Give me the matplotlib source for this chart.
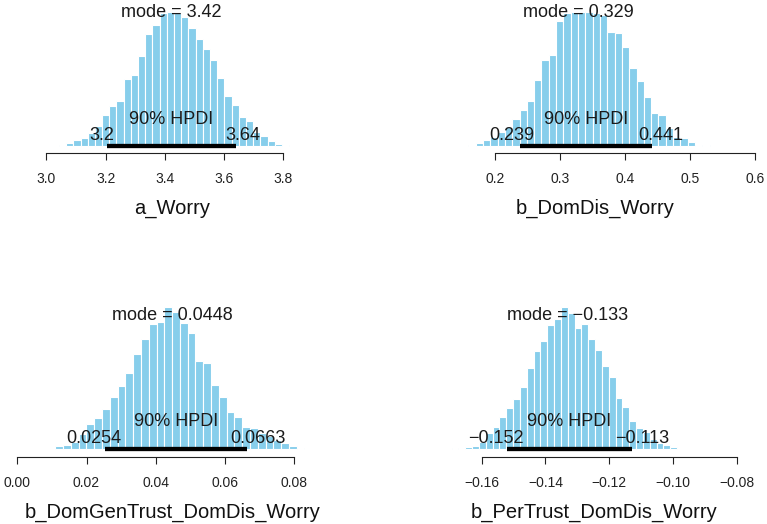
import matplotlib
matplotlib.use("Agg")
import matplotlib.pyplot as plt
import matplotlib.transforms as mtransforms
import numpy as np

# ---------------- data ----------------
param_names = ["a_Worry", "b_DomDis_Worry",
               "b_DomGenTrust_DomDis_Worry", "b_PerTrust_DomDis_Worry"]

bin_starts = [3.042, 0.159, 0.00424, -0.17158]
bin_widths = [0.02428, 0.01125, 0.00225, 0.002144]

heights_a_Worry = [2, 8, 18, 25, 40, 60, 93, 120, 136, 200, 213, 270, 335, 363, 400, 403,
                   398, 386, 355, 320, 290, 258, 205, 150, 124, 88, 76, 42, 30, 15, 5, 2]
heights_b_DomDis = [4, 10, 18, 28, 43, 56, 80, 108, 135, 198, 258, 273, 375, 398, 403, 401,
                    403, 398, 393, 343, 338, 296, 233, 195, 148, 98, 93, 53, 26, 25, 11, 4, 2]
heights_b_DomGenTrust = [1, 1, 1, 8, 11, 21, 46, 76, 92, 120, 157, 189, 227, 284, 330, 375,
                         382, 427, 412, 379, 347, 264, 257, 192, 157, 110, 95, 66, 64, 48,
                         40, 28, 18, 8, 2, 1]
heights_b_PerTrust = [1, 2, 3, 5, 10, 22, 47, 67, 97, 122, 149, 185, 242, 295, 325, 372,
                      390, 427, 409, 364, 374, 329, 297, 249, 215, 154, 125, 85, 62, 50,
                      29, 17, 12, 6]

modes = [3.42, 0.329, 0.0448, -0.133]
hpdi_low = [3.203, 0.239, 0.0254, -0.152]
hpdi_high = [3.640, 0.441, 0.0663, -0.113]
cred_mass = 90

xticks_a = [3.0, 3.2, 3.4, 3.6, 3.8]
xticklabels_a = ["3.0", "3.2", "3.4", "3.6", "3.8"]
xticks_b1 = [0.2, 0.3, 0.4, 0.5, 0.6]
xticklabels_b1 = ["0.2", "0.3", "0.4", "0.5", "0.6"]
xticks_b2 = [0.00, 0.02, 0.04, 0.06, 0.08]
xticklabels_b2 = ["0.00", "0.02", "0.04", "0.06", "0.08"]
xticks_b3 = [-0.16, -0.14, -0.12, -0.10, -0.08]
xticklabels_b3 = ["\u22120.16", "\u22120.14", "\u22120.12", "\u22120.10", "\u22120.08"]

all_heights = [heights_a_Worry, heights_b_DomDis, heights_b_DomGenTrust, heights_b_PerTrust]
all_ticks = [xticks_a, xticks_b1, xticks_b2, xticks_b3]
all_ticklabels = [xticklabels_a, xticklabels_b1, xticklabels_b2, xticklabels_b3]

# ---------------- style / layout ----------------
plt.rcParams['font.family'] = ['Liberation Sans', 'DejaVu Sans']
W, H, DPI = 767, 524, 100
BAR_COLOR = "#87CEEB"
TEXT_COLOR = "#1a1a1a"
TEXT_SIZE = 13
LABEL_SIZE = 14.5
TICK_SIZE = 10

# pixel layout per panel: axes left/right, reference tick pixel and value,
# pixels per unit, axes top, axis-line y, bar-baseline y, xlabel centre
layout = [
    dict(L=0, R=383.5, x0=46.5, v0=3.0, k=296.25, T=0, A=152.5, B=146, lab_x=172.5),
    dict(L=383.5, R=767, x0=495, v0=0.2, k=650, T=0, A=152.5, B=146, lab_x=594.8),
    dict(L=0, R=383.5, x0=17.3, v0=0.0, k=3460, T=262, A=456.5, B=449, lab_x=172.3),
    dict(L=383.5, R=767, x0=481.7, v0=-0.16, k=3187.5, T=262, A=456.5, B=449, lab_x=594.0),
]
UNIT = 3.0  # height units per pixel

fig = plt.figure(figsize=(W / DPI, H / DPI), dpi=DPI)

def fmt(v):
    return ("%.3g" % v).replace("-", "\u2212")

shift_texts = []
for i, lay in enumerate(layout):
    ax = fig.add_axes([lay['L'] / W, 1 - lay['A'] / H,
                       (lay['R'] - lay['L']) / W, (lay['A'] - lay['T']) / H])
    ax.set_xlim(lay['v0'] + (lay['L'] - lay['x0']) / lay['k'],
                lay['v0'] + (lay['R'] - lay['x0']) / lay['k'])
    ax.set_ylim(-(lay['A'] - lay['B']) * UNIT, (lay['B'] - lay['T']) * UNIT)
    ax.patch.set_visible(False)

    h = all_heights[i]
    edges = bin_starts[i] + bin_widths[i] * np.arange(len(h))
    ax.bar(edges, h, width=bin_widths[i], align='edge', color=BAR_COLOR,
           edgecolor='white', linewidth=0.8, zorder=1, clip_on=False)

    lo, hi = hpdi_low[i], hpdi_high[i]
    ax.plot([lo, hi], [0, 0], color='black', lw=3.1, solid_capstyle='butt',
            zorder=3, clip_on=False)

    ax.text(modes[i], 129 * UNIT, "mode = " + fmt(modes[i]), ha='center',
            va='baseline', fontsize=TEXT_SIZE, color=TEXT_COLOR, zorder=4, clip_on=False)
    ax.text((lo + hi) / 2, 22.5 * UNIT, "%d%% HPDI" % cred_mass, ha='center',
            va='baseline', fontsize=TEXT_SIZE, color=TEXT_COLOR, zorder=4, clip_on=False)
    t1 = ax.text(lo, 6 * UNIT, fmt(lo), ha='center', va='baseline',
                 fontsize=TEXT_SIZE, color=TEXT_COLOR, zorder=4, clip_on=False)
    t2 = ax.text(hi, 6 * UNIT, fmt(hi), ha='center', va='baseline',
                 fontsize=TEXT_SIZE, color=TEXT_COLOR, zorder=4, clip_on=False)
    shift_texts.append((t1, 0.7))
    shift_texts.append((t2, 0.3))

    for s in ['top', 'left', 'right']:
        ax.spines[s].set_visible(False)
    ax.spines['bottom'].set_bounds(all_ticks[i][0], all_ticks[i][-1])
    ax.spines['bottom'].set_linewidth(0.8)
    ax.spines['bottom'].set_color('#222222')
    ax.set_yticks([])
    ax.set_xticks(all_ticks[i], all_ticklabels[i])
    ax.tick_params(axis='x', length=5.2, width=0.8, color='#222222',
                   labelsize=TICK_SIZE, labelcolor='#222222', pad=8.5)

    fig.text(lay['lab_x'] / W, 1 - (lay['A'] + 61) / H, param_names[i],
             ha='center', va='baseline', fontsize=LABEL_SIZE, color='#111111')

# horizontal adjustment of HPDI end labels (R-style fractional adj)
fig.canvas.draw()
renderer = fig.canvas.get_renderer()
for t, frac in shift_texts:
    bb = t.get_window_extent(renderer)
    dx = (0.5 - frac) * bb.width
    t.set_transform(t.get_transform() + mtransforms.Affine2D().translate(dx, 0))

fig.savefig("out.png", dpi=DPI)
